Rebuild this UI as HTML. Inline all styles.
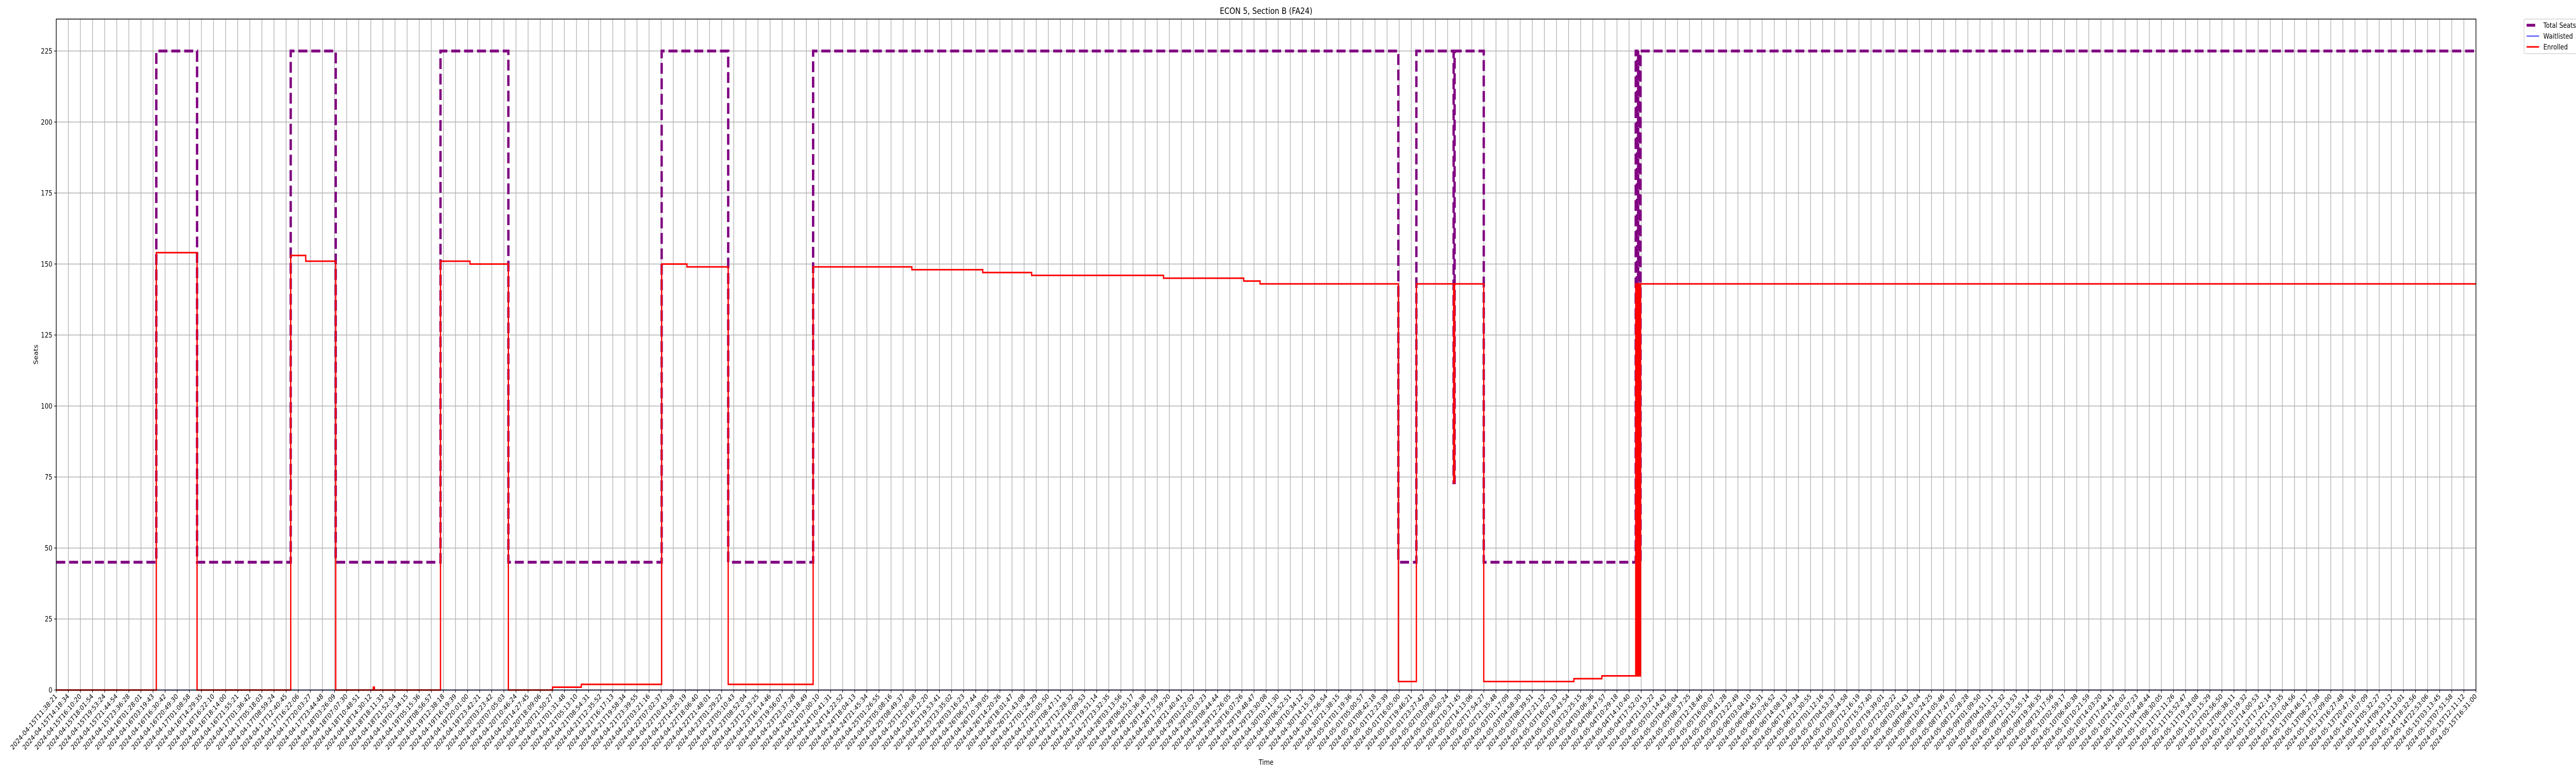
<!DOCTYPE html>
<html><head><meta charset="utf-8">
<style>
html,body{margin:0;padding:0;background:#fff;width:100%;height:100%;overflow:hidden;}
svg{display:block;position:fixed;left:0;top:0;width:100vw;height:100vh;overflow:hidden;font-family:"DejaVu Sans","Liberation Sans",sans-serif;}
</style></head>
<body>
<svg id="chart" viewBox="0 0 6000 1500" preserveAspectRatio="none" xmlns="http://www.w3.org/2000/svg">
<rect x="0" y="0" width="6000" height="1500" fill="#fff"/>
<g id="grid"></g>
<g id="series"></g>
<rect x="131" y="37" width="5636" height="1302" fill="none" stroke="#000" stroke-width="1.5"/>
<g id="axes"></g>
<text x="2949" y="27" font-size="17" text-anchor="middle">ECON 5, Section B (FA24)</text>
<text x="2949" y="1484" font-size="14" text-anchor="middle">Time</text>
<text x="0" y="0" font-size="14" text-anchor="middle" transform="translate(88,688) rotate(-90)">Seats</text>
<g>
<rect x="5879" y="37" width="140" height="67" rx="3" fill="#fff" stroke="#ccc" stroke-width="1.2"/>
<g><line x1="5885" y1="49" x2="5905" y2="49" stroke="#800080" stroke-width="5.5"/><text x="5924" y="54" font-size="14">Total Seats</text></g>
<g><line x1="5885" y1="70" x2="5914" y2="70" stroke="#0000ff" stroke-width="1.5"/><text x="5924" y="75" font-size="14">Waitlisted</text></g>
<g><line x1="5885" y1="91" x2="5914" y2="91" stroke="#ff0000" stroke-width="3"/><text x="5924" y="96" font-size="14">Enrolled</text></g>
</g>
</svg>
<script>
// ---- data (x in tick-index units, y in seats) ----
const yTicks = [0,25,50,75,100,125,150,175,200,225];
const seatsX = [0,8.27,11.64,19.38,23.1,31.76,37.37,50.04,55.54,62.56,110.93,112.42,115.50,115.58,117.99,130.55,130.65,130.75,130.85,130.95,200];
const seatsY = [45,225,45,225,45,225,45,225,45,225,45,225,73,225,45,225,45,225,45,225,225];
const enrolledX = [0,8.27,11.64,19.38,20.62,23.1,26.2,26.3,31.76,34.2,37.37,41.02,43.4,50.04,52.13,55.54,62.56,70.72,76.58,80.62,91.52,98.15,99.5,110.93,112.42,115.50,115.58,117.99,125.44,127.75,127.9,130.55,130.65,130.75,130.85,130.95,200];
const enrolledY = [0,154,0,153,151,0,1,0,151,150,0,1,2,150,149,2,149,148,147,146,145,144,143,3,143,73,143,3,4,5,5,143,5,143,5,143,143];
const waitX = [0,200];
const waitY = [0,0];
const firstLabels = ["2024-04-15T11:38:21","2024-04-15T14:18:34","2024-04-15T16:10:20","2024-04-15T18:01:54","2024-04-15T19:53:24","2024-04-15T21:44:54","2024-04-15T23:36:28","2024-04-16T01:28:01","2024-04-16T03:19:43","2024-04-16T16:30:42","2024-04-16T20:49:30","2024-04-17T01:08:58","2024-04-16T14:29:35","2024-04-16T16:22:10"];
const lastLabels = ["2024-05-13T16:27:48","2024-05-13T20:47:16","2024-05-14T01:07:09","2024-05-14T05:32:27","2024-05-14T09:53:12","2024-05-14T14:13:01","2024-05-14T18:32:56","2024-05-14T22:53:06","2024-05-15T03:13:45","2024-05-15T07:51:58","2024-05-15T12:11:12","2024-05-15T16:31:00"];
const nTicks = 201;

// ---- scales ----
const L=131,R=5767,T=37,B=1339,YMAX=236.25;
function sx(i){return L+(R-L)*i/(nTicks-1);}
function sy(v){return B-(B-T)*v/YMAX;}
const NS="http://www.w3.org/2000/svg";
function mk(tag,attrs,parent){const e=document.createElementNS(NS,tag);for(const k in attrs)e.setAttribute(k,attrs[k]);parent.appendChild(e);return e;}

const t0=Date.UTC(2024,3,16,18,14,0), t1=Date.UTC(2024,4,13,12,9,0);
const nMid=nTicks-firstLabels.length-lastLabels.length;
const tickLabels=[...firstLabels];
for(let k=0;k<nMid;k++){const t=new Date(t0+(t1-t0)*k/(nMid-1));tickLabels.push(t.toISOString().slice(0,19));}
tickLabels.push(...lastLabels);

const grid=document.getElementById('grid'),axes=document.getElementById('axes'),series=document.getElementById('series');
for(let i=0;i<nTicks;i++){
  const x=sx(i);
  const g=mk('line',{x1:x,y1:T,x2:x,y2:B,stroke:'#b0b0b0','stroke-width':1.5},grid);
  
  
  const tk=mk('line',{x1:x,y1:B,x2:x,y2:B+5,stroke:'#000','stroke-width':1.2},axes);
  
  
  const tx=mk('text',{x:0,y:0,'font-size':13.5,'text-anchor':'end',transform:`translate(${x+3},${B+13}) rotate(-45)`},axes);
  tx.textContent=tickLabels[i];
  
  
}
for(const v of yTicks){
  const y=sy(v);
  const g=mk('line',{x1:L,y1:y,x2:R,y2:y,stroke:'#b0b0b0','stroke-width':1.5},grid);
  
  
  const tk=mk('line',{x1:L-5,y1:y,x2:L,y2:y,stroke:'#000','stroke-width':1.2},axes);
  
  
  const tx=mk('text',{x:L-9,y:y+5,'font-size':14,'text-anchor':'end'},axes);
  tx.textContent=String(v);
  
  
}
function stepPath(xs,ys){let d=`M${sx(xs[0])},${sy(ys[0])}`;for(let i=1;i<xs.length;i++){d+=`H${sx(xs[i])}V${sy(ys[i])}`;}return d;}
const p1=mk('path',{d:stepPath(seatsX,seatsY),fill:'none',stroke:'#800080','stroke-width':5.5,'stroke-dasharray':'21 9'},series);


const p2=mk('path',{d:stepPath(waitX,waitY),fill:'none',stroke:'#0000ff','stroke-width':1.5},series);


const p3=mk('path',{d:stepPath(enrolledX,enrolledY),fill:'none',stroke:'#ff0000','stroke-width':3},series);


</script>
</body></html>
